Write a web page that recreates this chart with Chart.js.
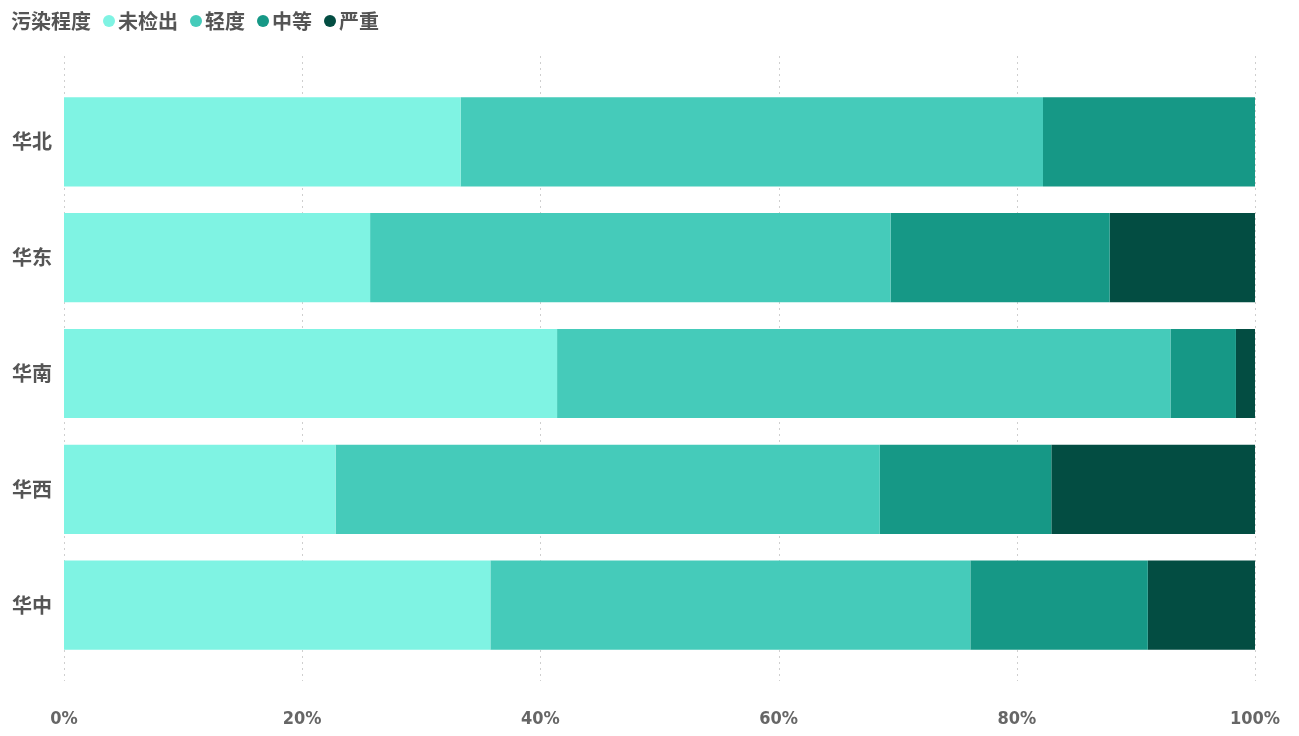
<!DOCTYPE html>
<html>
<head>
<meta charset="utf-8">
<script src="https://cdn.jsdelivr.net/npm/chart.js@4.4.0/dist/chart.umd.min.js"></script>
<style>
html,body{margin:0;padding:0;background:#fff;}
#wrap{position:relative;width:1299px;height:736px;}
#legend{position:absolute;left:11px;top:8px;font-family:"Noto Sans CJK SC","Noto Sans",sans-serif;font-weight:bold;font-size:20px;color:#555;display:flex;align-items:center;white-space:nowrap;line-height:26px;}
#legend .item{display:flex;align-items:center;margin-left:12px;}
#legend .dot{width:12px;height:12px;border-radius:50%;margin-right:3px;}
</style>
</head>
<body>
<div id="wrap">
<canvas id="c" width="1299" height="736"></canvas>
<div id="legend"></div>
</div>
<script>
const legendTitle = "污染程度";
const categories = ["华北","华东","华南","华西","华中"];
const seriesNames = ["未检出","轻度","中等","严重"];
const seriesColors = ["#7ff3e3","#45cbba","#169886","#034d42"];
const notDetected = [33.3, 25.7, 41.4, 22.8, 35.8];
const mild        = [48.9, 43.7, 51.5, 45.7, 40.3];
const moderate    = [17.8, 18.4, 5.5, 14.4, 14.9];
const severe      = [0.0, 12.2, 1.6, 17.1, 9.0];
const seriesValues = [notDetected, mild, moderate, severe];
const tickValues = [0,20,40,60,80,100];

// HTML legend
const lg = document.getElementById('legend');
const t = document.createElement('span'); t.textContent = legendTitle; lg.appendChild(t);
seriesNames.forEach((n,i)=>{
  const it=document.createElement('span'); it.className='item';
  const d=document.createElement('span'); d.className='dot'; d.style.background=seriesColors[i];
  const s=document.createElement('span'); s.textContent=n;
  it.appendChild(d); it.appendChild(s); lg.appendChild(it);
});

const gridPlugin = {
  id:'dottedGrid',
  beforeDatasetsDraw(chart){
    const {ctx, scales:{x}, chartArea} = chart;
    ctx.save();
    ctx.strokeStyle='#cfcfcf';
    ctx.lineWidth=1;
    ctx.setLineDash([2,4]);
    tickValues.forEach(v=>{
      const px = Math.round(x.getPixelForValue(v))+0.5;
      ctx.beginPath();
      ctx.moveTo(px, chartArea.top-28);
      ctx.lineTo(px, chartArea.bottom+18);
      ctx.stroke();
    });
    ctx.restore();
  }
};

new Chart(document.getElementById('c'), {
  type:'bar',
  data:{
    labels:categories,
    datasets: seriesNames.map((n,i)=>({
      label:n,
      data:seriesValues[i],
      backgroundColor:seriesColors[i],
      borderWidth:0,
      categoryPercentage:1.0,
      barPercentage:0.77
    }))
  },
  options:{
    indexAxis:'y',
    responsive:false,
    animation:false,
    devicePixelRatio:1,
    layout:{padding:{top:84,right:44,left:0,bottom:0}},
    plugins:{legend:{display:false},tooltip:{enabled:false}},
    scales:{
      x:{
        stacked:true, min:0, max:100,
        afterBuildTicks(s){ s.ticks = tickValues.map(v=>({value:v})); },
        afterFit(s){ s.height = 73; s.paddingLeft = 0; s.paddingRight = 0; },
        grid:{display:false, drawTicks:false},
        border:{display:false},
        ticks:{
          padding:46,
          color:'#666',
          font:{family:'"Liberation Sans Narrow","DejaVu Sans Condensed","Liberation Sans",sans-serif',size:18,weight:'bold'},
          callback:(v)=>v+'%'
        }
      },
      y:{
        stacked:true,
        afterFit(s){ s.width = 64; s.paddingTop = 0; s.paddingBottom = 0; },
        grid:{display:false, drawTicks:false},
        border:{display:false},
        ticks:{
          padding:12,
          color:'#555',
          font:{family:'"Noto Sans CJK SC","Noto Sans",sans-serif',size:20,weight:'bold'}
        }
      }
    }
  },
  plugins:[gridPlugin]
});
</script>
</body>
</html>
